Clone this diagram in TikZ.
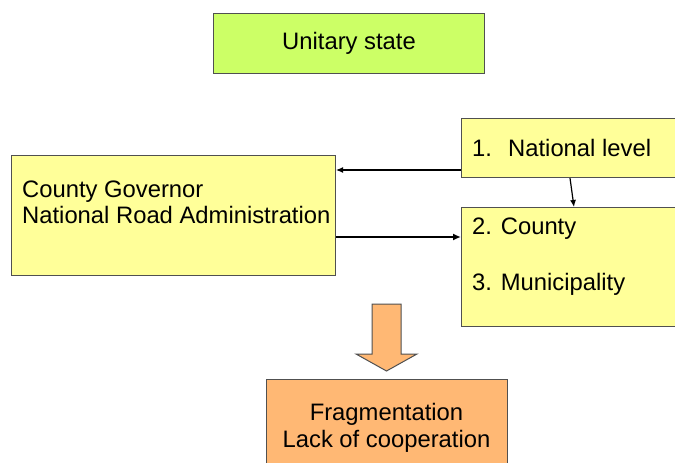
\documentclass[tikz,border=0pt]{standalone}
\usepackage{fontspec}
\setmainfont{Liberation Sans}
\usetikzlibrary{arrows.meta}
\definecolor{limefill}{HTML}{CCFF66}
\definecolor{yellowfill}{HTML}{FFFF99}
\definecolor{orangefill}{HTML}{FFB874}
\definecolor{edgegray}{HTML}{505050}
\begin{document}
\begin{tikzpicture}[x=1pt,y=-1pt,
  box/.style={draw=edgegray, line width=1pt, inner sep=0pt, anchor=north west},
  lbl/.style={font=\fontsize{23.8}{27}\selectfont, inner sep=0pt, text=black},
  conn/.style={-{Latex[length=7pt,width=6pt]}, line width=1.2pt, black},
  thickconn/.style={-{Latex[length=8pt,width=7pt]}, line width=2.4pt, black}]
\useasboundingbox (0,0) rectangle (675,463);
\clip (0,0) rectangle (675,463);
% boxes
\node[box, fill=limefill, minimum width=271pt, minimum height=60pt, lbl] (unit) at (213,13) {Unitary state};
\node[box, fill=yellowfill, minimum width=324pt, minimum height=120pt] (gov) at (11,155) {};
\node[box, fill=yellowfill, minimum width=230pt, minimum height=59pt] (nat) at (461,118) {};
\node[box, fill=yellowfill, minimum width=230pt, minimum height=119pt] (cnty) at (461,207) {};
\node[box, fill=orangefill, minimum width=241pt, minimum height=100pt] (frag) at (266,379) {};
% texts
\node[lbl, anchor=base west] (govA) at (22,197) {County Governor};
\node[lbl, anchor=base west] (govB) at (22,223) {National Road Administration};
\node[lbl, anchor=base west] (natT) at (472,156) {\makebox[36pt][l]{1.}National level};
\node[lbl, anchor=base west] (cntyA) at (472,234) {2. County};
\node[lbl, anchor=base west] (cntyB) at (472,290) {3. Municipality};
\node[lbl, anchor=base] (fragA) at (386.5,420) {Fragmentation};
\node[lbl, anchor=base] (fragB) at (386.5,447) {Lack of cooperation};
% connectors
\draw[conn] (nat.west |- 0,170) -- (gov.east |- 0,170);
\draw[thickconn] (gov.east |- 0,237) -- (cnty.west |- 0,237);
\draw[conn] (nat.south -| 570,0) -- (cnty.north -| 574,0);
% big down arrow
\draw[draw=edgegray, line width=1pt, fill=orangefill, line join=miter]
  (372,304) -- (401,304) -- (401,354) -- (417,354) -- (386.5,371) -- (356,354) -- (372,354) -- cycle;
\end{tikzpicture}
\end{document}
